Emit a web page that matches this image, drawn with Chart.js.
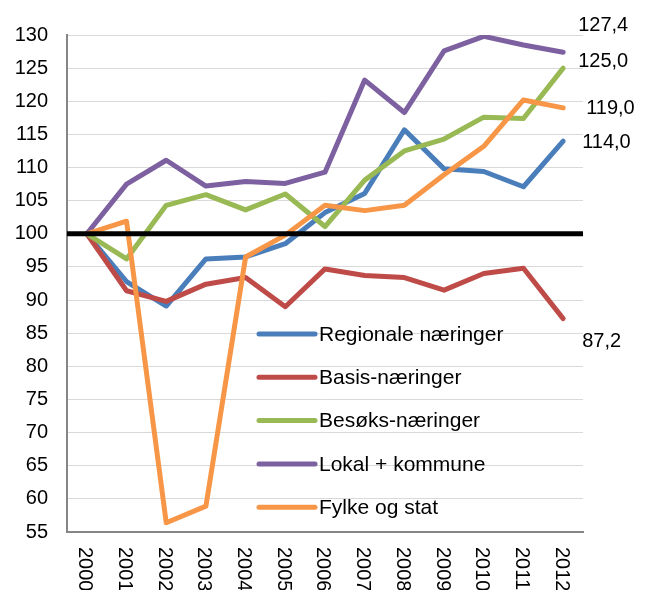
<!DOCTYPE html>
<html>
<head>
<meta charset="utf-8">
<script src="https://cdn.jsdelivr.net/npm/chart.js@4/dist/chart.umd.min.js"></script>
<style>
  html, body { margin: 0; padding: 0; background: #fff; }
</style>
</head>
<body>
<canvas id="indexChart" width="650" height="590"></canvas>
<script>
// --- Data (index, 2000 = 100) ---
const years = ['2000', '2001', '2002', '2003', '2004', '2005', '2006',
               '2007', '2008', '2009', '2010', '2011', '2012'];
const regionale = [100, 92.8, 89.1, 96.2, 96.5, 98.5, 103.2, 106.1, 115.7, 109.8, 109.4, 107.1, 114.0];
const basis     = [100, 91.4, 89.8, 92.4, 93.4, 89.0, 94.7, 93.7, 93.4, 91.5, 94.0, 94.8, 87.2];
const besoks    = [100, 96.2, 104.3, 105.9, 103.6, 106.0, 101.1, 108.1, 112.5, 114.3, 117.6, 117.4, 125.0];
const lokal     = [100, 107.5, 111.1, 107.2, 107.9, 107.6, 109.3, 123.2, 118.3, 127.6, 129.8, 128.5, 127.4];
const fylke     = [100, 101.9, 56.4, 58.9, 96.5, 99.8, 104.3, 103.5, 104.3, 108.9, 113.2, 120.2, 119.0];
const seriesNames = ['Regionale næringer', 'Basis-næringer', 'Besøks-næringer', 'Lokal + kommune', 'Fylke og stat'];
const yMin = 55;
const yMax = 130;
const yStep = 5;
const baseline = 100;

const colors = ['#4A7EBB', '#BE4B48', '#98B954', '#7D60A0', '#F79646'];
const font = '"Liberation Sans", Arial, sans-serif';

// nudges for the end-of-line value labels (dx, dy in px)
const labelNudge = [[19, 1], [19, 23], [15, -7], [15, -27], [23, 1]];

const makeSet = (i, values) => ({
    label: seriesNames[i],
    data: values,
    borderColor: colors[i],
    backgroundColor: colors[i],
    borderWidth: 5,
    borderCapStyle: 'round',
    borderJoinStyle: 'round',
    pointRadius: 0,
    tension: 0,
    fill: false,
    order: 4 - i   // later series on top, like the original
});

// draws the 100-line, the legend inside the plot, end labels and rotated years
const extras = {
    id: 'extras',
    afterDatasetsDraw(chart) {
        const {ctx, chartArea, scales: {x, y}} = chart;
        ctx.save();
        ctx.strokeStyle = '#000';
        ctx.lineWidth = 5;
        ctx.beginPath();
        ctx.moveTo(chartArea.left, y.getPixelForValue(baseline));
        ctx.lineTo(chartArea.right, y.getPixelForValue(baseline));
        ctx.stroke();
        ctx.restore();
    },
    afterDraw(chart) {
        const {ctx, chartArea, scales: {x, y}} = chart;
        ctx.save();
        ctx.fillStyle = '#000';

        // legend
        ctx.font = '21px ' + font;
        const lx = chartArea.left + 192;
        const ly = chartArea.top + 299;
        chart.data.datasets.forEach((ds, i) => {
            const rowY = ly + i * 43.3;
            ctx.strokeStyle = ds.borderColor;
            ctx.lineWidth = 5;
            ctx.lineCap = 'round';
            ctx.beginPath();
            ctx.moveTo(lx, rowY);
            ctx.lineTo(lx + 56, rowY);
            ctx.stroke();
            ctx.textAlign = 'left';
            ctx.textBaseline = 'middle';
            ctx.fillText(ds.label, lx + 60, rowY + 1);
        });

        // end values
        ctx.font = '20px ' + font;
        chart.data.datasets.forEach((ds, i) => {
            const last = ds.data.length - 1;
            const v = ds.data[last];
            const px = x.getPixelForValue(last) + labelNudge[i][0];
            const py = y.getPixelForValue(v) + labelNudge[i][1];
            ctx.textAlign = 'left';
            ctx.textBaseline = 'middle';
            ctx.fillText(v.toFixed(1).replace('.', ','), px, py);
        });

        // year labels, rotated clockwise
        years.forEach((yr, i) => {
            ctx.save();
            ctx.translate(x.getPixelForValue(i) - 2, chartArea.bottom + 15);
            ctx.rotate(Math.PI / 2);
            ctx.textAlign = 'left';
            ctx.textBaseline = 'middle';
            ctx.fillText(yr, 0, 0);
            ctx.restore();
        });
        ctx.restore();
    }
};

const ctx = document.querySelector('#indexChart').getContext('2d');
const indexChart = new Chart(ctx, {
    type: 'line',
    data: {
        labels: years,
        datasets: [
            makeSet(0, regionale),
            makeSet(1, basis),
            makeSet(2, besoks),
            makeSet(3, lokal),
            makeSet(4, fylke)
        ]
    },
    options: {
        responsive: false,
        animation: false,
        layout: { padding: { top: 35, right: 67, bottom: 0, left: 0 } },
        plugins: {
            legend: { display: false },
            tooltip: { enabled: false }
        },
        scales: {
            x: {
                offset: true,
                grid: { display: false },
                border: { display: true, color: '#868686', width: 2 },
                ticks: { display: false },
                afterFit: s => { s.height = 58; }
            },
            y: {
                min: yMin,
                max: yMax,
                ticks: {
                    stepSize: yStep,
                    color: '#000',
                    padding: 19,
                    font: { family: font, size: 20 }
                },
                grid: { color: '#d9d9d9', lineWidth: 1, drawTicks: false },
                border: { color: '#868686', width: 2 },
                afterFit: s => { s.width = 67; }
            }
        }
    },
    plugins: [extras]
});
</script>
</body>
</html>
